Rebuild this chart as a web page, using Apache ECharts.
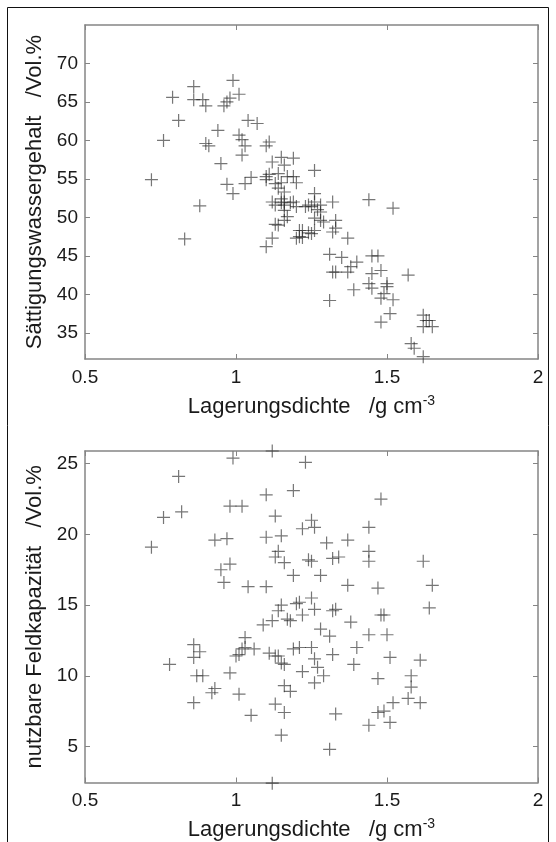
<!DOCTYPE html>
<html><head><meta charset="utf-8">
<script src="https://cdn.jsdelivr.net/npm/echarts@6/dist/echarts.min.js"></script>
<style>html,body{margin:0;padding:0;background:#fff}#c{width:556px;height:842px}</style>
</head><body><div id="c"></div>
<script>
// Lagerungsdichte (g/cm3) and Sättigungswassergehalt (Vol.%) – upper panel
const dichteOben = [0.72,0.76,0.79,0.81,0.83,0.86,0.86,0.89,0.90,0.88,
  0.90,0.91,0.94,0.95,0.97,0.99,0.96,0.97,0.98,0.99,
  1.01,1.01,1.02,1.03,1.02,1.03,1.05,1.04,1.07,1.10,
  1.11,1.10,1.12,1.15,1.19,1.16,1.13,1.14,1.15,1.19,
  1.20,1.11,1.15,1.15,1.16,1.16,1.12,1.13,1.16,1.17,
  1.13,1.14,1.16,1.12,1.10,1.19,1.21,1.21,1.22,1.25,
  1.23,1.25,1.26,1.26,1.26,1.28,1.28,1.26,1.28,1.26,
  1.22,1.32,1.33,1.33,1.32,1.37,1.31,1.35,1.40,1.45,
  1.47,1.32,1.33,1.37,1.38,1.45,1.48,1.44,1.45,1.50,
  1.50,1.39,1.57,1.31,1.49,1.48,1.52,1.51,1.48,1.62,
  1.63,1.64,1.65,1.62,1.58,1.59,1.62,1.44,1.52,1.10,
  1.17,1.18,1.14,1.20,1.24,1.27,1.29,1.24,1.20,1.16];
const saettigung = [54.9,60.0,65.6,62.6,47.2,67.0,65.3,65.3,64.5,51.5,
  59.6,59.3,61.3,57.0,54.3,53.1,64.5,65.0,65.5,67.8,
  66.0,60.7,60.1,59.3,58.1,54.4,55.2,62.6,62.2,59.3,
  59.8,55.3,57.2,57.8,57.7,56.8,54.4,53.8,54.5,55.3,
  54.5,55.6,52.4,51.9,51.6,52.0,52.0,51.6,50.9,50.1,
  49.1,49.0,49.6,47.3,46.2,52.0,48.3,47.5,47.4,47.9,
  51.4,51.4,56.1,53.1,52.0,51.6,50.7,49.9,49.6,48.3,
  48.3,52.0,49.6,48.6,48.1,47.3,45.2,44.8,44.2,45.0,
  45.0,42.9,42.9,42.9,43.6,42.7,43.1,41.4,40.8,41.4,
  41.0,40.6,42.5,39.2,40.1,39.5,39.3,37.5,36.4,37.3,
  36.6,36.6,35.8,35.8,33.6,33.0,31.9,52.3,51.2,54.9,
  55.3,51.9,55.7,51.4,51.6,51.0,49.4,48.0,47.3,53.3];

// Lagerungsdichte and nutzbare Feldkapazität (Vol.%) – lower panel
const dichteUnten = [0.72,0.76,0.78,0.81,0.82,0.86,0.86,0.86,0.88,0.87,
  0.89,0.92,0.93,0.93,0.97,0.95,0.98,0.96,0.98,1.02,
  0.99,0.98,1.01,1.04,1.05,1.01,1.02,1.03,1.03,1.06,
  1.00,1.10,1.10,1.10,1.09,1.12,1.13,1.15,1.14,1.13,
  1.16,1.19,1.12,1.12,1.19,1.23,1.22,1.25,1.26,1.24,
  1.28,1.30,1.32,1.34,1.37,1.37,1.44,1.44,1.44,1.47,
  1.48,1.62,1.65,1.64,1.15,1.14,1.17,1.18,1.21,1.22,
  1.25,1.26,1.32,1.33,1.38,1.28,1.31,1.44,1.48,1.49,
  1.50,1.40,1.39,1.32,1.51,1.61,1.47,1.58,1.58,1.57,
  1.61,1.52,1.49,1.47,1.44,1.51,1.33,1.31,1.15,1.13,
  1.16,1.16,1.18,1.11,1.14,1.15,1.16,1.19,1.21,1.25,
  1.26,1.22,1.27,1.29,1.26,1.13,1.25,1.20];
const nfk = [19.1,21.2,10.8,24.1,21.6,12.2,11.3,8.1,11.7,10.0,
  10.0,8.8,9.1,19.6,19.7,17.5,17.9,16.6,22.0,22.0,
  25.4,10.2,8.7,16.3,7.2,11.5,11.9,12.7,12.0,11.9,
  11.4,22.8,19.8,16.3,13.6,13.9,21.3,19.9,18.8,18.4,
  18.0,17.1,25.9,2.4,23.1,25.1,20.4,21.0,20.5,18.2,
  17.1,19.4,18.3,18.4,19.6,16.4,20.5,18.8,18.1,16.2,
  22.5,18.1,16.4,14.8,15.0,14.6,14.0,13.9,15.2,14.3,
  15.5,14.7,14.6,14.7,13.8,13.3,12.8,12.9,14.3,14.3,
  12.9,12.0,10.8,11.5,11.3,11.1,9.8,10.0,9.2,8.4,
  8.1,8.1,7.5,7.4,6.5,6.7,7.3,4.8,5.8,8.0,
  7.4,9.3,8.9,11.6,11.4,10.9,10.8,11.9,12.0,12.0,
  11.2,10.3,10.6,10.0,9.5,11.4,18.1,15.1];

const yTicksOben = [35,40,45,50,55,60,65,70];
const yTicksUnten = [5,10,15,20,25];

const FONT = "'Liberation Sans', Arial, Helvetica, sans-serif";
const axisCol = '#858585';
const txtCol = '#1a1a1a';
const crossPath = 'path://M0,5L10,5M5,0L5,10';

function pairs(xs, ys){ return xs.map((x,i)=>[x, ys[i]]); }

const xName = '{a|Lagerungsdichte   /g cm}{s|-3}';
const nameRich = {
  a:{fontSize:22, fontFamily:FONT, color:txtCol, lineHeight:25},
  s:{fontSize:14, fontFamily:FONT, color:txtCol, verticalAlign:'top', lineHeight:13}
};

function xAx(gi, bottom){
  return {
    gridIndex:gi, type:'value', min:0.5, max:2, interval:0.5,
    position: bottom ? 'bottom' : 'top',
    axisLine:{show:true, onZero:false, lineStyle:{color:axisCol, width:1.5}},
    axisTick:{show:true, inside:true, length:5, lineStyle:{color:axisCol, width:1}},
    axisLabel:{show:bottom, margin:9, fontSize:19, color:txtCol, fontFamily:FONT},
    splitLine:{show:false},
    name: bottom ? xName : '', nameLocation:'middle', nameGap:35,
    nameTextStyle:{fontSize:22, fontFamily:FONT, color:txtCol, rich:nameRich}
  };
}
function yAx(gi, left, min, max, ticks, name){
  return {
    gridIndex:gi, type:'value', min:min, max:max,
    position: left ? 'left' : 'right',
    axisLine:{show:true, onZero:false, lineStyle:{color:axisCol, width:1.5}},
    axisTick:{show:true, inside:true, length:5, customValues:ticks, lineStyle:{color:axisCol, width:1}},
    axisLabel:{show:left, margin:7, fontSize:19, color:txtCol, fontFamily:FONT, customValues:ticks},
    splitLine:{show:false},
    name: left ? name : '', nameLocation:'middle', nameGap:39,
    nameTextStyle:{fontSize:22, fontFamily:FONT, color:txtCol}
  };
}
function scat(gi, data){
  return {
    type:'scatter', xAxisIndex:gi*2, yAxisIndex:gi*2, data:data,
    symbol:crossPath, symbolSize:13, clip:false, silent:true,
    itemStyle:{color:'rgba(0,0,0,0)', borderColor:'rgba(35,35,35,0.78)', borderWidth:1.2},
    emphasis:{disabled:true}
  };
}

const chart = echarts.init(document.getElementById('c'), null, {renderer:'canvas'});
chart.setOption({
  animation:false,
  backgroundColor:'#fff',
  grid:[
    {left:85, top:25, width:453, height:334},
    {left:85, top:451, width:453, height:333}
  ],
  xAxis:[xAx(0,true), xAx(0,false), xAx(1,true), xAx(1,false)],
  yAxis:[
    yAx(0,true,31.6,75,yTicksOben,'Sättigungswassergehalt   /Vol.%'),
    yAx(0,false,31.6,75,yTicksOben,''),
    yAx(1,true,2.45,25.9,yTicksUnten,'nutzbare Feldkapazität   /Vol.%'),
    yAx(1,false,2.45,25.9,yTicksUnten,'')
  ],
  series:[ scat(0, pairs(dichteOben, saettigung)), scat(1, pairs(dichteUnten, nfk)) ],
  graphic:[{type:'rect', shape:{x:7.5, y:7.5, width:541, height:900}, style:{fill:null, stroke:'#111', lineWidth:1}, silent:true, z:100}]
});
</script></body></html>
